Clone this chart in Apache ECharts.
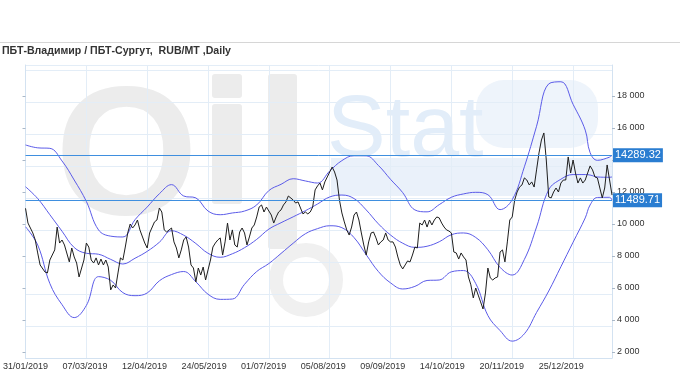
<!DOCTYPE html>
<html>
<head>
<meta charset="utf-8">
<script src="https://cdn.jsdelivr.net/npm/echarts/dist/echarts.min.js"></script>
<style>html,body{margin:0;padding:0;background:#fff}#c{width:680px;height:380px}</style>
</head>
<body>
<div id="c"></div>
<script>
// ---- data (index = trading day counted from 31/01/2019) ----
const dateLabels = ['31/01/2019','07/03/2019','12/04/2019','24/05/2019','01/07/2019','05/08/2019','09/09/2019','14/10/2019','20/11/2019','25/12/2019'];
const yTickValues = [2000,4000,6000,8000,10000,12000,14000,16000,18000];
const titleText = 'ПБТ-Владимир / ПБТ-Сургут,  RUB/MT ,Daily';

const price = [[0,10980],[1,10060],[3,9440],[4,9000],[5,8190],[6,7440],[8,7000],[9,6940],[10,7750],[12,8380],[13,9810],[14,8810],[15,9000],[16,8690],[18,7630],[19,8500],[20,7940],[21,7560],[22,6690],[24,7750],[25,8810],[26,8560],[27,7750],[28,7560],[29,7880],[30,7440],[31,7810],[32,7440],[33,7750],[34,7310],[35,5880],[36,6190],[37,6000],[38,6940],[39,7880],[40,7750],[41,8560],[42,9440],[43,10000],[44,9750],[45,9940],[46,10250],[47,9630],[49,8810],[50,8500],[51,9440],[53,10130],[54,10250],[55,11000],[56,10750],[57,9630],[58,9500],[59,9630],[60,9750],[61,8880],[62,8500],[63,7880],[64,8380],[65,9000],[66,9190],[67,8560],[68,7440],[69,7250],[70,6380],[71,7250],[72,6810],[73,7310],[74,6500],[75,7130],[76,7750],[77,8560],[78,8810],[79,9000],[80,9130],[81,8060],[82,8880],[83,10060],[84,9000],[85,9630],[86,8690],[87,8560],[88,9500],[89,9750],[90,9440],[91,8690],[92,9190],[93,9750],[94,9940],[95,10440],[96,11060],[97,11190],[98,10750],[99,11060],[101,10560],[102,10060],[103,10440],[104,10750],[105,10880],[106,11190],[107,11380],[108,11750],[110,11500],[111,11310],[112,11380],[113,11000],[114,10630],[115,10750],[116,10630],[117,10750],[118,11060],[119,12130],[120,12380],[121,12560],[122,12130],[123,12630],[124,12940],[125,13250],[126,13560],[127,13250],[128,12750],[129,11500],[130,10690],[131,10130],[132,9630],[133,9310],[134,9810],[135,10560],[136,10750],[137,10250],[138,9440],[139,8690],[140,8060],[141,8880],[142,9440],[143,9500],[144,9130],[145,8690],[146,8880],[147,9000],[148,9440],[149,9000],[150,8880],[151,8880],[152,8560],[153,7940],[154,7440],[155,7190],[156,7440],[157,7690],[158,7630],[159,8060],[160,8560],[161,8500],[162,10060],[163,9940],[164,10250],[165,9810],[166,10250],[167,9940],[168,10250],[169,10440],[170,10380],[171,10060],[172,9810],[173,9630],[174,9560],[175,9440],[176,8250],[177,8190],[178,7810],[179,8190],[180,7940],[181,7750],[182,6690],[183,6200],[184,5380],[185,6000],[186,5560],[187,5130],[188,4690],[189,5690],[190,7250],[191,6630],[192,6500],[193,6630],[194,6690],[195,8250],[196,8380],[197,7630],[198,8880],[199,10250],[200,10440],[201,11500],[202,12000],[203,12310],[204,12440],[205,12880],[206,12750],[207,12440],[208,12630],[209,12310],[210,13380],[211,14440],[212,15250],[213,15690],[214,14000],[215,11690],[216,11630],[217,12000],[218,12250],[219,12000],[220,12560],[221,12750],[222,12750],[223,14190],[224,13190],[225,14000],[226,13190],[227,12560],[228,12880],[229,12560],[230,12750],[231,13190],[232,13630],[233,13380],[234,12940],[235,12880],[236,12250],[237,11630],[238,12250],[239,13690],[240,12750],[241,11810]];

const bandDays = [0,5,10,15,20,25,30,35,40,45,50,55,60,65,70,75,80,85,90,95,100,105,110,115,120,125,130,135,140,145,150,155,160,165,170,175,180,185,190,195,200,205,210,215,220,225,230,232,235,240,241];
const upperBand = [14940,14760,14730,13940,12750,11410,9630,9240,9190,10270,11060,11890,12460,11750,11630,10810,10580,10690,10810,11190,12090,12480,12830,12690,12560,13310,13960,14270,14260,13660,12790,11960,10880,10760,11210,11670,11880,11980,11830,10900,11520,13580,16110,18760,18890,17480,15870,14460,13980,14180,14289.32];
const middleBand = [12330,11590,10580,9550,8530,8170,8110,7790,7500,7860,8290,8860,9580,9300,8780,8170,7920,8140,8520,9040,9680,10080,10450,10830,11250,11690,11810,11590,10880,10010,9310,8800,8540,8610,8890,9330,9440,9160,8390,7290,6810,7790,9810,12140,12800,13090,13090,13060,12940,12920,12940];
const lowerBand = [9830,8690,6280,4960,4150,4910,6710,6480,5710,5520,5690,6450,6840,7030,6390,5610,5290,5310,6230,7030,7530,8160,8800,9390,9710,9890,9770,9150,8080,7030,6320,5940,6100,6470,6500,7010,7090,6280,4280,3340,2680,3140,4470,5810,7330,8860,10380,11190,11660,11670,11489.71];
const markValues = [14289.32, 11489.71];

// ---- chart ----
const pair = (days, vals) => days.map((d, i) => [d, vals[i]]);
const FONT = '"Liberation Sans", Arial, sans-serif';
const Y_MIN = 1625, Y_MAX = 19937.5, X_MAX = 241;
const GRID_C = '#e3edf7', AXIS_C = '#d3e2f1';
const BAND_C = '#5b5be8', MARK_C = '#3f8fdf';
const fmtK = v => String(v).replace(/\B(?=(\d{3})+(?!\d))/g, ' ');
const band = (name, vals) => ({
  name, type: 'line', xAxisIndex: 0, yAxisIndex: 0, data: pair(bandDays, vals),
  smooth: 0.4, showSymbol: false, silent: true, z: 3,
  emphasis: { disabled: true },
  itemStyle: { color: BAND_C }, lineStyle: { color: BAND_C, width: 1 }
});

const chart = echarts.init(document.getElementById('c'), null, { renderer: 'canvas' });
chart.setOption({
  animation: false,
  backgroundColor: '#fff',
  title: {
    text: titleText, left: 2, top: 46, padding: 0,
    textStyle: { fontSize: 10.6, fontWeight: 'bold', color: '#333', fontFamily: FONT }
  },
  graphic: [
    { type: 'line', silent: true, shape: { x1: 0, y1: 42.5, x2: 680, y2: 42.5 }, style: { stroke: '#d6d6d6', lineWidth: 1 } },
    { type: 'rect', silent: true, z: -10, shape: { x: 476, y: 80, width: 122, height: 68, r: 28 }, style: { fill: '#eef4fb' } },
    { type: 'rect', silent: true, z: -10, shape: { x: 331, y: 158, width: 281, height: 38 }, style: { fill: '#eaf1fa' } },
    { type: 'text', silent: true, z: -9, style: { text: 'O', x: 55, y: 163, verticalAlign: 'middle', font: 'bold 184px "Liberation Sans"', fill: '#ececec' } },
    { type: 'rect', silent: true, z: -9, shape: { x: 212, y: 74, width: 30, height: 24, r: 3 }, style: { fill: '#ececec' } },
    { type: 'rect', silent: true, z: -9, shape: { x: 212, y: 104, width: 30, height: 100, r: 3 }, style: { fill: '#ececec' } },
    { type: 'rect', silent: true, z: -9, shape: { x: 268, y: 74, width: 29, height: 175, r: 3 }, style: { fill: '#ececec' } },
    { type: 'circle', silent: true, z: -9, shape: { cx: 306, cy: 280, r: 30 }, style: { fill: 'none', stroke: '#f0f0f0', lineWidth: 14 } },
    { type: 'text', silent: true, z: -9, style: { text: 'Stat', x: 327, y: 132, verticalAlign: 'middle', font: '88px "Liberation Sans"', fill: '#e2edf9' } }
  ],
  grid: { left: 22, right: 68, top: 65, bottom: 22, containLabel: false },
  xAxis: [
    {
      type: 'value', min: 0, max: X_MAX, interval: 25, z: 1,
      axisLine: { show: true, onZero: false, lineStyle: { color: AXIS_C } },
      axisTick: { show: false }, axisLabel: { show: false },
      splitLine: { show: true, lineStyle: { color: GRID_C, width: 1 } }
    },
    {
      type: 'value', min: 0, max: 246.3, interval: 25, position: 'bottom', z: 1,
      axisLine: { show: false, onZero: false }, axisTick: { show: false }, splitLine: { show: false },
      axisLabel: {
        show: true, margin: 4, fontSize: 9, color: '#333', fontFamily: FONT,
        showMinLabel: true, showMaxLabel: true, hideOverlap: false,
        formatter: v => (v % 25 === 0 && dateLabels[v / 25]) ? dateLabels[v / 25] : ''
      }
    }
  ],
  yAxis: [
    {
      type: 'value', position: 'right', min: Y_MIN, max: Y_MAX, splitNumber: 9, z: 1,
      axisLine: { show: true, onZero: false, lineStyle: { color: AXIS_C } },
      axisTick: { show: true, length: 3, customValues: yTickValues, lineStyle: { color: '#aab8c8' } },
      axisLabel: { show: true, margin: 5, fontSize: 9, color: '#333', fontFamily: FONT, customValues: yTickValues, formatter: fmtK },
      splitLine: { show: false }
    },
    {
      type: 'value', position: 'left', min: Y_MIN, max: Y_MAX, splitNumber: 9, z: 1,
      axisLine: { show: true, onZero: false, lineStyle: { color: AXIS_C } },
      axisTick: { show: true, length: 3, customValues: yTickValues, lineStyle: { color: '#aab8c8' } },
      axisLabel: { show: false },
      splitLine: { show: false }
    },
    {
      type: 'value', position: 'left', min: Y_MIN, max: Y_MAX, interval: 2000, z: 1,
      axisLine: { show: false, onZero: false }, axisTick: { show: false }, axisLabel: { show: false },
      splitLine: { show: true, lineStyle: { color: GRID_C, width: 1 } }
    }
  ],
  series: [
    band('upper', upperBand),
    band('middle', middleBand),
    band('lower', lowerBand),
    {
      name: 'price', type: 'line', xAxisIndex: 0, yAxisIndex: 0, data: price,
      showSymbol: false, silent: true, z: 4, emphasis: { disabled: true },
      itemStyle: { color: '#1e1e1e' }, lineStyle: { color: '#1e1e1e', width: 1 }
    },
    {
      name: 'levels', type: 'line', xAxisIndex: 0, yAxisIndex: 0, data: [], silent: true, z: 5,
      markLine: {
        symbol: ['none', 'none'], silent: true, precision: 2,
        label: {
          position: 'end', distance: 1, color: '#fff', backgroundColor: '#2a7dd1',
          padding: [2, 2, 1, 2], fontSize: 11, fontFamily: FONT
        },
        data: markValues.map(v => ({ yAxis: v, lineStyle: { color: MARK_C, width: 1, type: 'solid' } }))
      }
    }
  ]
});
</script>
</body>
</html>
